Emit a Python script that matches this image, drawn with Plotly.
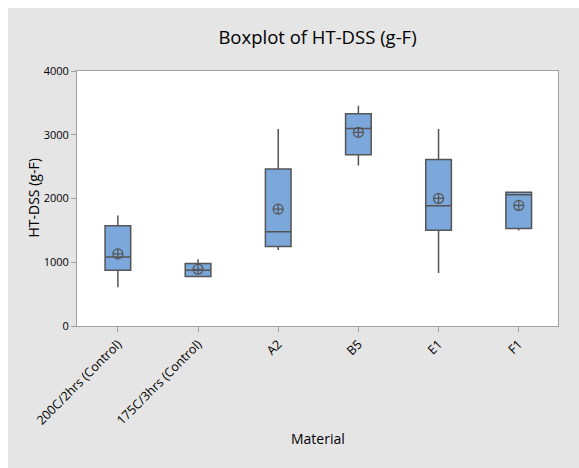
import plotly.graph_objects as go

categories = ["200C/2hrs (Control)", "175C/3hrs (Control)", "A2", "B5", "E1", "F1"]
lower_whisker = [608, 770, 1194, 2519, 833, 1498]
q1_values = [875, 776, 1247, 2686, 1503, 1530]
medians = [1084, 875, 1477, 3100, 1885, 2058]
q3_values = [1571, 980, 2461, 3330, 2613, 2100]
upper_whisker = [1734, 1048, 3089, 3455, 3089, 2100]
means = [1131, 890, 1833, 3037, 2001, 1891]

FONT = "Open Sans"

fig = go.Figure()
fig.add_trace(go.Box(
    x=categories,
    q1=q1_values,
    median=medians,
    q3=q3_values,
    lowerfence=lower_whisker,
    upperfence=upper_whisker,
    fillcolor="#7BA7DA",
    line=dict(color="#555555", width=1.5),
    whiskerwidth=0,
    width=0.32,
    boxpoints=False,
    hoverinfo="skip",
    showlegend=False,
))
fig.add_trace(go.Scatter(
    x=categories,
    y=means,
    mode="markers",
    marker=dict(symbol="circle-cross-open", size=10, color="#555555",
                line=dict(width=1.2, color="#555555")),
    hoverinfo="skip",
    showlegend=False,
))

fig.update_layout(
    width=579, height=468,
    margin=dict(l=77, r=21, t=71, b=142),
    paper_bgcolor="#E5E5E5",
    plot_bgcolor="white",
    font=dict(family=FONT, color="black", size=11),
    title=dict(text="Boxplot of HT-DSS (g-F)", x=0.5, xref="paper", xanchor="center",
               y=1 - 38 / 468, yref="container", yanchor="middle",
               font=dict(size=18.5, family=FONT, color="black")),
    xaxis=dict(
        range=[-0.51, 5.49],
        showline=True, mirror=True, linecolor="#A0A0A0", linewidth=1,
        ticks="outside", ticklen=5, tickcolor="#A0A0A0",
        tickangle=-45, showgrid=False, zeroline=False,
        tickfont=dict(size=12.5, family=FONT, color="black"),
    ),
    yaxis=dict(
        range=[0, 4000],
        tickvals=[0, 1000, 2000, 3000, 4000],
        showline=True, mirror=True, linecolor="#A0A0A0", linewidth=1,
        ticks="outside", ticklen=5, tickcolor="#A0A0A0",
        showgrid=False, zeroline=False,
        tickfont=dict(size=11, family=FONT, color="black"),
    ),
    shapes=[
        dict(type="rect", xref="paper", yref="paper", x0=-0.2, x1=1.1,
             y0=1 + 63 / 255, y1=1.4, fillcolor="white", line=dict(width=0), layer="above"),
        dict(type="rect", xref="paper", yref="paper", x0=-0.2, x1=-69 / 481,
             y0=-0.7, y1=1.4, fillcolor="white", line=dict(width=0), layer="above"),
    ],
    annotations=[
        dict(text="Material", xref="paper", yref="paper", x=0.5,
             y=-(438 - 326) / 255, xanchor="center", yanchor="middle",
             showarrow=False, font=dict(size=14, family=FONT, color="black")),
        dict(text="HT-DSS (g-F)", xref="paper", yref="paper", x=-(77 - 33) / 481,
             y=0.5, xanchor="center", yanchor="middle", textangle=-90,
             showarrow=False, font=dict(size=14, family=FONT, color="black")),
    ],
)

fig.write_html("out.html")
